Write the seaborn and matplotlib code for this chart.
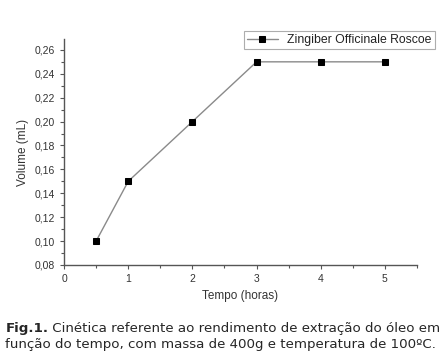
import numpy as np
import pandas as pd
import matplotlib
matplotlib.use("Agg")
import matplotlib.pyplot as plt
import seaborn as sns
from matplotlib.ticker import MultipleLocator, FuncFormatter

# data
tempo = [0.5, 1, 2, 3, 4, 5]
volume = [0.10, 0.15, 0.20, 0.25, 0.25, 0.25]
serie = "Zingiber Officinale Roscoe"

df = pd.DataFrame({"Tempo": tempo, "Volume": volume, "Serie": serie})

sns.set_style("ticks")
plt.rcParams["font.family"] = ["Liberation Sans", "DejaVu Sans"]

fig = plt.figure(figsize=(4.45, 3.59), dpi=100)
ax = fig.add_axes([0.144, 0.262, 0.793, 0.629])

sns.lineplot(data=df, x="Tempo", y="Volume", hue="Serie", palette=["#8a8a8a"],
             marker="s", markersize=4.5, markerfacecolor="black", markeredgecolor="black",
             linewidth=1, ax=ax)

ax.set_xlim(0, 5.5)
ax.set_ylim(0.08, 0.269)
ax.xaxis.set_major_locator(MultipleLocator(1))
ax.xaxis.set_minor_locator(MultipleLocator(0.5))
ax.yaxis.set_major_locator(MultipleLocator(0.02))
ax.yaxis.set_minor_locator(MultipleLocator(0.01))
ax.yaxis.set_major_formatter(FuncFormatter(lambda v, p: f"{v:.2f}".replace(".", ",")))
ax.tick_params(labelsize=7.5, color="#555555", labelcolor="#333333", length=3, width=0.8)
ax.tick_params(which="minor", length=2, color="#555555", width=0.8)
for s in ["top", "right"]:
    ax.spines[s].set_visible(False)
for s in ["left", "bottom"]:
    ax.spines[s].set_color("#555555")
    ax.spines[s].set_linewidth(1)

ax.set_xlabel("Tempo (horas)", fontsize=8.5, color="#333333", labelpad=4)
ax.set_ylabel("Volume (mL)", fontsize=8.5, color="#333333", labelpad=4)

leg = ax.legend(loc="upper right", bbox_to_anchor=(0.991, 0.93), bbox_transform=fig.transFigure,
                fontsize=8.8, frameon=True, fancybox=False, handlelength=2.5,
                borderpad=0.25, labelcolor="#222222")
leg.get_frame().set_edgecolor("#999999")
leg.get_frame().set_linewidth(0.8)

fig.text(0.012, 0.068, "Fig.1.", fontsize=9.6, fontweight="bold", family="DejaVu Sans", va="bottom")
fig.text(0.012 + 0.095, 0.068, " Cinética referente ao rendimento de extração do óleo em",
         fontsize=9.6, family="DejaVu Sans", va="bottom")
fig.text(0.012, 0.022, "função do tempo, com massa de 400g e temperatura de 100ºC.",
         fontsize=9.6, family="DejaVu Sans", va="bottom")

fig.savefig("out.png", dpi=100)
